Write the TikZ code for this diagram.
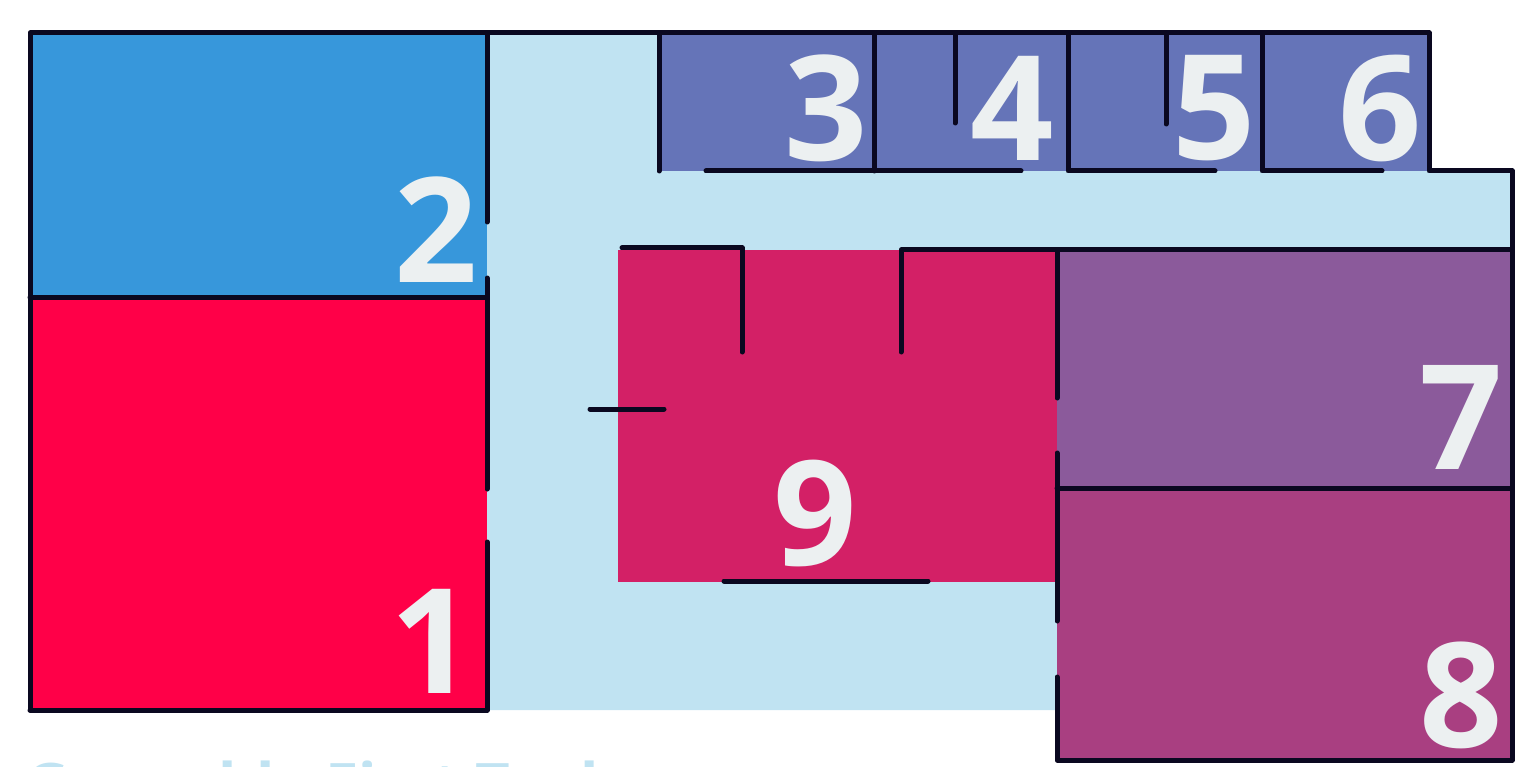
\documentclass[tikz,border=0pt]{standalone}
\usepackage{fontspec}
\setmainfont{Open Sans}
\usepackage{tikz}
\usetikzlibrary{positioning}

\definecolor{freeblue}{HTML}{C0E3F2}
\definecolor{ink}{HTML}{0A0820}
\definecolor{digit}{HTML}{ECF0F1}
\definecolor{boxone}{HTML}{FF0048}
\definecolor{boxtwo}{HTML}{3797DB}
\definecolor{boxrow}{HTML}{6574B8}
\definecolor{boxseven}{HTML}{8B5A9B}
\definecolor{boxeight}{HTML}{A93F81}
\definecolor{boxnine}{HTML}{D32066}

\begin{document}
\begin{tikzpicture}[
    x=1pt, y=-1pt,
    wall/.style={draw=ink, line width=5pt, line cap=round, line join=round},
    num/.style={font=\fontsize{146}{146}\selectfont\bfseries, text=digit, inner sep=0pt},
    title/.style={font=\fontsize{60}{60}\selectfont\bfseries, text=freeblue, inner sep=0pt, anchor=base west}
]

\clip (0,0) rectangle (1538,767);
\fill[white] (0,0) rectangle (1538,767);

% free space
\fill[freeblue] (487,33) -| (1428,171) -| (1512,250) -| (1057,710) -- (487,710) -- cycle;

% placed boxes
\fill[boxtwo] (30,33) rectangle (487,297);
\fill[boxone] (30,297) rectangle (487,710);
\fill[boxrow] (659,33) rectangle (1428,171);
\fill[boxnine] (618,250) rectangle (1057,582);
\fill[boxseven] (1057,250) rectangle (1512,488);
\fill[boxeight] (1057,488) rectangle (1512,760);

% outline
\draw[wall] (30,710) -- (30,33) -- (1429,33) -- (1429,171) -- (1512,171) -- (1512,760) -- (1057,760) -- (1057,677);
\draw[wall] (30,710) -- (487,710) -- (487,542);
\draw[wall] (487,489) -- (487,278);
\draw[wall] (487,222) -- (487,33);
\draw[wall] (30,297) -- (487,297);

% top row
\draw[wall] (659,33) -- (659,171);
\draw[wall] (706,171) -- (1021,171);
\draw[wall] (874,33) -- (874,171);
\draw[wall] (955,33) -- (955,123);
\draw[wall] (1068,33) -- (1068,171) -- (1215,171);
\draw[wall] (1166,33) -- (1166,124);
\draw[wall] (1262,33) -- (1262,171) -- (1382,171);

% middle
\draw[wall] (622,248) -- (742,248) -- (742,352);
\draw[wall] (901,352) -- (901,250) -- (1512,250);
\draw[wall] (590,409) -- (664,409);
\draw[wall] (724,581) -- (928,581);
\draw[wall] (1057,250) -- (1057,398);
\draw[wall] (1057,453) -- (1057,621);
\draw[wall] (1057,488) -- (1512,488);

% labels
\node[num] (n1) at (432,641) {1};
\node[num] (n2) at (436,230) {2};
\node[num] (n3) at (826,108) {3};
\node[num] (n4) at (1012,108) {4};
\node[num] (n5) at (1214,108) {5};
\node[num] (n6) at (1380,108) {6};
\node[num] (n7) at (1461,417) {7};
\node[num] (n8) at (1461,695) {8};
\node[num] (n9) at (815,513) {9};

\node[title] (caption) at (25,806) {Growable First Tool};

\end{tikzpicture}
\end{document}
